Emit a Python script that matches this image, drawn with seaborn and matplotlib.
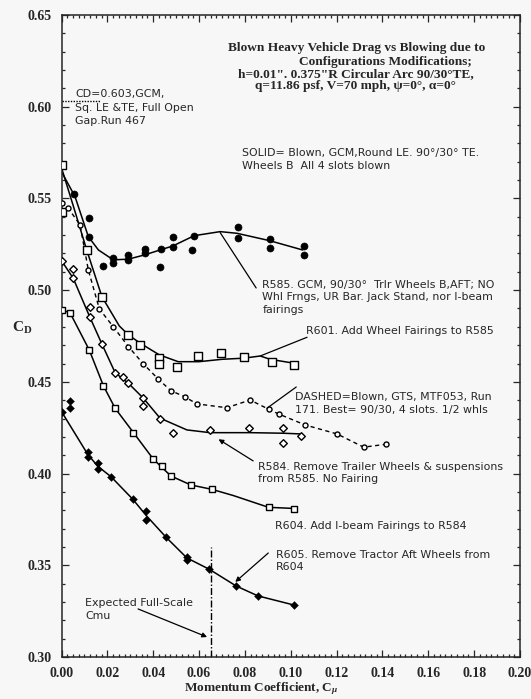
import matplotlib
matplotlib.use("Agg")
import seaborn as sea
from matplotlib import pyplot
from matplotlib.ticker import MultipleLocator, FormatStrFormatter

# R585: GCM, 90/30 TE, trailer wheels aft, no fairings (filled circles)
r585_cmu = [0.0056, 0.0118, 0.0118, 0.0183, 0.0223, 0.0223, 0.029, 0.029, 0.0363, 0.0363,
            0.0432, 0.0429, 0.0488, 0.0488, 0.0571, 0.058, 0.0768, 0.0768, 0.0911, 0.0911,
            0.1056, 0.1056]
r585_cd = [0.5525, 0.5394, 0.5292, 0.5132, 0.5176, 0.5148, 0.5192, 0.5165, 0.5225, 0.5203,
           0.5225, 0.5128, 0.5237, 0.5292, 0.5219, 0.5297, 0.5343, 0.5283, 0.5279, 0.5229,
           0.5241, 0.5192]
r585_fit_cmu = [0.0, 0.0059, 0.0117, 0.0161, 0.0226, 0.0292, 0.0362, 0.043, 0.0486, 0.0579,
                0.0692, 0.0765, 0.0907, 0.1052]
r585_fit_cd = [0.5646, 0.551, 0.5292, 0.5219, 0.5165, 0.5169, 0.5192, 0.5219, 0.5241, 0.5297,
               0.5319, 0.531, 0.527, 0.5219]

# R601: add wheel fairings (open squares)
r601_cmu = [0.0, 0.0, 0.011, 0.0176, 0.0292, 0.0343, 0.0427, 0.0427, 0.0503, 0.0597,
            0.0697, 0.0794, 0.0918, 0.1012]
r601_cd = [0.5683, 0.5427, 0.5219, 0.4965, 0.4756, 0.4701, 0.463, 0.4598, 0.4583, 0.4641,
           0.4658, 0.4638, 0.461, 0.4592]
r601_fit_cmu = [0.0, 0.005, 0.011, 0.0176, 0.0252, 0.0292, 0.0343, 0.0427, 0.0509, 0.06,
                0.07, 0.0794, 0.0867, 0.091, 0.1012]
r601_fit_cd = [0.5667, 0.5465, 0.5219, 0.4965, 0.4805, 0.4756, 0.4711, 0.4647, 0.461, 0.461,
               0.4623, 0.4629, 0.4641, 0.4623, 0.4602]

# GTS, MTF053, run 171 (dashed)
gts_cmu = [0.0, 0.0028, 0.0081, 0.0117, 0.0165, 0.0226, 0.0292, 0.0357, 0.0423, 0.0477,
           0.0539, 0.059, 0.0721, 0.0823, 0.0903, 0.0947, 0.1063, 0.1202, 0.1318, 0.1417]
gts_cd = [0.5476, 0.5449, 0.5356, 0.511, 0.4898, 0.48, 0.4692, 0.4598, 0.4514, 0.4452,
          0.4418, 0.438, 0.4359, 0.4401, 0.4351, 0.4325, 0.4265, 0.4216, 0.4144, 0.416]

# R584: trailer wheels & suspensions removed (open diamonds)
r584_cmu = [0.0, 0.0052, 0.0052, 0.0124, 0.0124, 0.0176, 0.0234, 0.027, 0.0292, 0.0357,
            0.0355, 0.043, 0.0488, 0.0648, 0.082, 0.0966, 0.0966, 0.1046]
r584_cd = [0.5161, 0.5114, 0.5067, 0.491, 0.4856, 0.4707, 0.455, 0.4525, 0.4492, 0.4411,
           0.4369, 0.4296, 0.422, 0.4238, 0.4247, 0.4247, 0.4169, 0.4205]
r584_fit_cmu = [0.0, 0.0051, 0.0124, 0.0176, 0.0234, 0.0292, 0.0357, 0.043, 0.0547, 0.0648,
                0.0823, 0.0966, 0.1046]
r584_fit_cd = [0.5161, 0.5065, 0.4852, 0.4707, 0.455, 0.4492, 0.4411, 0.4302, 0.4238, 0.4223,
               0.4223, 0.422, 0.4216]

# R604: I-beam fairings added (open squares)
r604_cmu = [0.0, 0.0037, 0.0121, 0.0183, 0.0234, 0.0314, 0.0401, 0.0438, 0.0477, 0.0564,
            0.0656, 0.0903, 0.1012]
r604_cd = [0.4892, 0.4877, 0.4674, 0.4478, 0.4356, 0.4223, 0.4078, 0.404, 0.3987, 0.3938,
           0.3914, 0.3816, 0.3805]
r604_fit_cmu = [0.0, 0.0037, 0.0121, 0.0183, 0.0234, 0.0314, 0.0401, 0.0477, 0.0564, 0.0656,
                0.075, 0.0903, 0.1012]
r604_fit_cd = [0.4892, 0.4877, 0.4674, 0.4478, 0.4356, 0.4223, 0.4078, 0.3987, 0.3938, 0.3914,
               0.388, 0.3816, 0.381]

# R605: tractor aft wheels removed (filled diamonds)
r605_cmu = [0.0, 0.0037, 0.0037, 0.0114, 0.0114, 0.0158, 0.0158, 0.0216, 0.0311, 0.0369,
            0.0369, 0.0456, 0.0547, 0.0547, 0.0645, 0.0762, 0.0857, 0.1012]
r605_cd = [0.4338, 0.4398, 0.4356, 0.412, 0.4092, 0.4056, 0.4024, 0.3983, 0.386, 0.3798,
           0.3747, 0.3653, 0.3547, 0.3529, 0.3478, 0.3387, 0.3333, 0.3284]
r605_fit_cmu = [0.0, 0.0114, 0.0158, 0.0216, 0.0311, 0.0369, 0.0456, 0.0547, 0.0645, 0.0762,
                0.0857, 0.1012]
r605_fit_cd = [0.4338, 0.4106, 0.404, 0.3983, 0.386, 0.3772, 0.3653, 0.354, 0.3478, 0.3387,
               0.3333, 0.3284]

full_scale_cmu = 0.065
baseline_cd = 0.603

sea.set_style("ticks")
pyplot.rcParams["font.family"] = ["DejaVu Sans"]
pyplot.rcParams["mathtext.fontset"] = "custom"
pyplot.rcParams["mathtext.rm"] = "Liberation Serif:bold"
pyplot.rcParams["mathtext.it"] = "Liberation Serif:bold:italic"

BG = "#f7f7f7"
SERIF = ["Liberation Serif", "DejaVu Serif"]

figure = pyplot.figure(figsize=(5.31, 6.99), dpi=100, facecolor=BG)
axis = figure.add_axes([61.5 / 531, 1 - 657 / 699, 458.5 / 531, 642 / 699])
axis.set_facecolor(BG)

line_kw = dict(color="black", lw=1.1, estimator=None, sort=False, ax=axis)
sea.lineplot(x=r585_fit_cmu, y=r585_fit_cd, **line_kw)
sea.lineplot(x=r601_fit_cmu, y=r601_fit_cd, **line_kw)
sea.lineplot(x=gts_cmu, y=gts_cd, color="black", lw=1.0, linestyle=(0, (3, 2.5)),
             estimator=None, sort=False, ax=axis)
sea.lineplot(x=r584_fit_cmu, y=r584_fit_cd, **line_kw)
sea.lineplot(x=r604_fit_cmu, y=r604_fit_cd, **line_kw)
sea.lineplot(x=r605_fit_cmu, y=r605_fit_cd, **line_kw)

sea.scatterplot(x=r585_cmu, y=r585_cd, marker="o", s=26, color="black",
                edgecolor="black", ax=axis, zorder=3)
sea.scatterplot(x=r601_cmu, y=r601_cd, marker="s", s=26, facecolor="white",
                edgecolor="black", linewidth=1.0, ax=axis, zorder=3)
sea.scatterplot(x=gts_cmu, y=gts_cd, marker="o", s=13, facecolor="white",
                edgecolor="black", linewidth=1.0, ax=axis, zorder=3)
sea.scatterplot(x=r584_cmu, y=r584_cd, marker="D", s=15, facecolor="white",
                edgecolor="black", linewidth=1.0, ax=axis, zorder=3)
sea.scatterplot(x=r604_cmu, y=r604_cd, marker="s", s=24, facecolor="white",
                edgecolor="black", linewidth=1.0, ax=axis, zorder=3)
sea.scatterplot(x=r605_cmu, y=r605_cd, marker="D", s=16, color="black",
                edgecolor="black", ax=axis, zorder=3)

# expected full-scale Cmu marker and baseline drag
axis.plot([full_scale_cmu, full_scale_cmu], [0.30, 0.36], color="black", lw=1.0,
          linestyle=(0, (5, 1.5, 1, 1.5)))
axis.plot([0.0, 0.0168], [baseline_cd, baseline_cd], color="black", lw=1.0,
          linestyle=(0, (1, 1)))

axis.set_xlim(0.0, 0.20)
axis.set_ylim(0.30, 0.65)
axis.xaxis.set_major_locator(MultipleLocator(0.02))
axis.xaxis.set_minor_locator(MultipleLocator(0.0025))
axis.yaxis.set_major_locator(MultipleLocator(0.05))
axis.yaxis.set_minor_locator(MultipleLocator(0.01))
axis.xaxis.set_major_formatter(FormatStrFormatter("%.2f"))
axis.yaxis.set_major_formatter(FormatStrFormatter("%.2f"))
axis.tick_params(which="both", direction="in", top=True, right=True, width=0.9)
axis.tick_params(which="major", length=5)
axis.tick_params(which="minor", length=2.5)
axis.tick_params(axis="x", pad=7)
axis.tick_params(axis="y", pad=7)
for label in axis.get_xticklabels() + axis.get_yticklabels():
    label.set_family(SERIF)
    label.set_fontweight("bold")
    label.set_fontsize(10)
for spine in axis.spines.values():
    spine.set_linewidth(1.1)

axis.set_xlabel(r"Momentum Coefficient, C$_\mu$", family=SERIF, fontweight="bold",
                fontsize=9.5, va="baseline")
axis.xaxis.set_label_coords(0.435, -0.054)
axis.set_ylabel(r"C$_\mathrm{D}$", family=SERIF, fontweight="bold", fontsize=11,
                rotation=0, va="center")
axis.yaxis.set_label_coords(-0.086, 0.512)

title_kw = dict(family=SERIF, fontweight="bold", fontsize=9.6, ha="center", va="center")
axis.text(0.1286, 0.6319, "Blown Heavy Vehicle Drag vs Blowing due to", **title_kw)
axis.text(0.1413, 0.6246, "Configurations Modifications;", **title_kw)
axis.text(0.1286, 0.6179, "h=0.01\". 0.375\"R Circular Arc 90/30°TE,", **title_kw)
axis.text(0.1282, 0.6114, "q=11.86 psf, V=70 mph, ψ=0°, α=0°", **title_kw)

note_kw = dict(fontsize=7.9, ha="left", va="center", linespacing=1.35)
axis.text(0.0059, 0.5995, "CD=0.603,GCM,\nSq. LE &TE, Full Open\nGap.Run 467",
          fontsize=7.9, ha="left", va="center", linespacing=1.45)
axis.text(0.0788, 0.5713, "SOLID= Blown, GCM,Round LE. 90°/30° TE.\n"
          "Wheels B  All 4 slots blown", **note_kw)
axis.text(0.0876, 0.4960, "R585. GCM, 90/30°  Trlr Wheels B,AFT; NO\n"
          "Whl Frngs, UR Bar. Jack Stand, nor I-beam\nfairings", **note_kw)
axis.text(0.1068, 0.4778, "R601. Add Wheel Fairings to R585", **note_kw)
axis.text(0.1020, 0.4380, "DASHED=Blown, GTS, MTF053, Run\n"
          "171. Best= 90/30, 4 slots. 1/2 whls", **note_kw)
axis.text(0.0858, 0.4003, "R584. Remove Trailer Wheels & suspensions\n"
          "from R585. No Fairing", **note_kw)
axis.text(0.0932, 0.3714, "R604. Add I-beam Fairings to R584", **note_kw)
axis.text(0.0937, 0.3523, "R605. Remove Tractor Aft Wheels from\nR604", **note_kw)
axis.text(0.0103, 0.3259, "Expected Full-Scale\nCmu", **note_kw)

plain = dict(arrowstyle="-", lw=0.9, color="black", shrinkA=0, shrinkB=0)
headed = dict(arrowstyle="-|>", lw=0.9, color="black", shrinkA=0, shrinkB=0,
              mutation_scale=7)
axis.annotate("", xy=(0.0692, 0.5314), xytext=(0.0849, 0.5012), arrowprops=plain)
axis.annotate("", xy=(0.0867, 0.4641), xytext=(0.1071, 0.4743), arrowprops=plain)
axis.annotate("", xy=(0.0896, 0.4356), xytext=(0.1024, 0.4472), arrowprops=plain)
axis.annotate("", xy=(0.0685, 0.4187), xytext=(0.0836, 0.4069), arrowprops=headed)
axis.annotate("", xy=(0.0758, 0.3409), xytext=(0.0902, 0.3567), arrowprops=headed)
axis.annotate("", xy=(0.0635, 0.3109), xytext=(0.0334, 0.3262), arrowprops=headed)

figure.savefig("out.png", dpi=100, facecolor=BG)
